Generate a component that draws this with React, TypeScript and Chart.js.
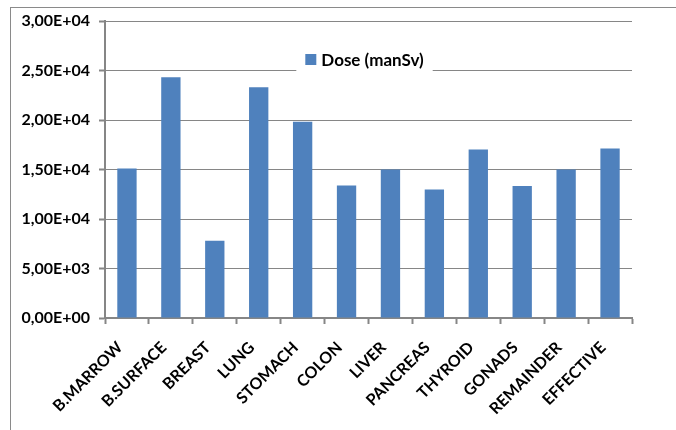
import React, { useEffect, useRef } from "react";
import { Chart, registerables } from "chart.js";

Chart.register(...registerables);

const categories = [
  "B.MARROW",
  "B.SURFACE",
  "BREAST",
  "LUNG",
  "STOMACH",
  "COLON",
  "LIVER",
  "PANCREAS",
  "THYROID",
  "GONADS",
  "REMAINDER",
  "EFFECTIVE",
];
const doseValues = [15100, 24320, 7810, 23300, 19830, 13380, 15000, 12970, 17030, 13330, 15000, 17130];
const seriesLabel = "Dose (manSv)";
const yMin = 0;
const yMax = 30000;
const yStep = 5000;

const BAR_COLOR = "#4F81BD";
const AXIS_COLOR = "#868686";
const FONT_FAMILY = "Lato, 'Open Sans', sans-serif";

function formatSci(v: number): string {
  const [m, e] = v.toExponential(2).split("e");
  const sign = e.startsWith("-") ? "-" : "+";
  const digits = e.replace(/[+-]/, "").padStart(2, "0");
  return m.replace(".", ",") + "E" + sign + digits;
}

const insetLegend = {
  id: "insetLegend",
  afterDraw(chart: any) {
    const { ctx, chartArea, scales } = chart;
    const cx = (chartArea.left + chartArea.right) / 2 - 4;
    const cy = scales.y.getPixelForValue(yMax - yStep) - 10;
    ctx.save();
    ctx.font = `bold 17px ${FONT_FAMILY}`;
    const tw = ctx.measureText(seriesLabel).width;
    const box = 11;
    const gap = 5;
    const total = box + gap + tw;
    const rw = total + 18;
    const rh = 30;
    ctx.fillStyle = "#ffffff";
    ctx.fillRect(cx - rw / 2, cy - rh / 2, rw, rh);
    const sx = cx - total / 2;
    ctx.fillStyle = BAR_COLOR;
    ctx.fillRect(sx, cy - box / 2 - 1, box, box);
    ctx.fillStyle = "#000000";
    ctx.textBaseline = "middle";
    ctx.textAlign = "left";
    ctx.fillText(seriesLabel, sx + box + gap, cy);
    ctx.restore();
  },
};

export default function App() {
  const canvasRef = useRef<HTMLCanvasElement | null>(null);

  useEffect(() => {
    const canvas = canvasRef.current;
    if (!canvas) return;
    const chart = new Chart(canvas, {
      type: "bar",
      data: {
        labels: categories,
        datasets: [
          {
            label: seriesLabel,
            data: doseValues,
            backgroundColor: BAR_COLOR,
            borderWidth: 0,
            barPercentage: 0.44,
            categoryPercentage: 1,
          },
        ],
      },
      options: {
        responsive: false,
        animation: false,
        devicePixelRatio: 1,
        layout: { padding: { left: 0, top: 21, right: 44, bottom: 0 } },
        plugins: {
          legend: { display: false },
          tooltip: { enabled: false },
        },
        scales: {
          x: {
            afterFit: (scale: any) => {
              scale.height = 112;
            },
            grid: {
              offset: true,
              drawOnChartArea: false,
              drawTicks: true,
              tickLength: 6,
              tickWidth: 2,
              tickColor: AXIS_COLOR,
              color: AXIS_COLOR,
              lineWidth: 1,
            },
            border: { color: AXIS_COLOR, width: 2 },
            ticks: {
              autoSkip: false,
              minRotation: 45,
              maxRotation: 45,
              padding: 14,
              labelOffset: -7,
              color: "#000000",
              font: { family: FONT_FAMILY, size: 16, weight: "bold" },
            },
          },
          y: {
            min: yMin,
            max: yMax,
            afterFit: (scale: any) => {
              scale.width = 105;
            },
            grid: {
              color: AXIS_COLOR,
              lineWidth: 1,
              drawTicks: true,
              tickLength: 6,
              tickWidth: 2,
              tickColor: AXIS_COLOR,
            },
            border: { color: AXIS_COLOR, width: 2 },
            ticks: {
              stepSize: yStep,
              padding: 9,
              color: "#000000",
              font: { family: FONT_FAMILY, size: 16, weight: "bold" },
              callback: (v: any) => formatSci(Number(v)),
            },
          },
        },
      },
      plugins: [insetLegend],
    });
    return () => chart.destroy();
  }, []);

  return (
    <div
      style={{
        position: "absolute",
        left: 0,
        top: 0,
        width: 676,
        height: 430,
        overflow: "hidden",
        background: "#ffffff",
      }}
    >
      <div
        style={{
          position: "absolute",
          left: 10,
          top: 7,
          width: 720,
          height: 480,
          border: "1px solid #8a8a8a",
        }}
      />
      <canvas
        ref={canvasRef}
        width={676}
        height={430}
        style={{ position: "absolute", left: 0, top: 0, display: "block" }}
      />
    </div>
  );
}
